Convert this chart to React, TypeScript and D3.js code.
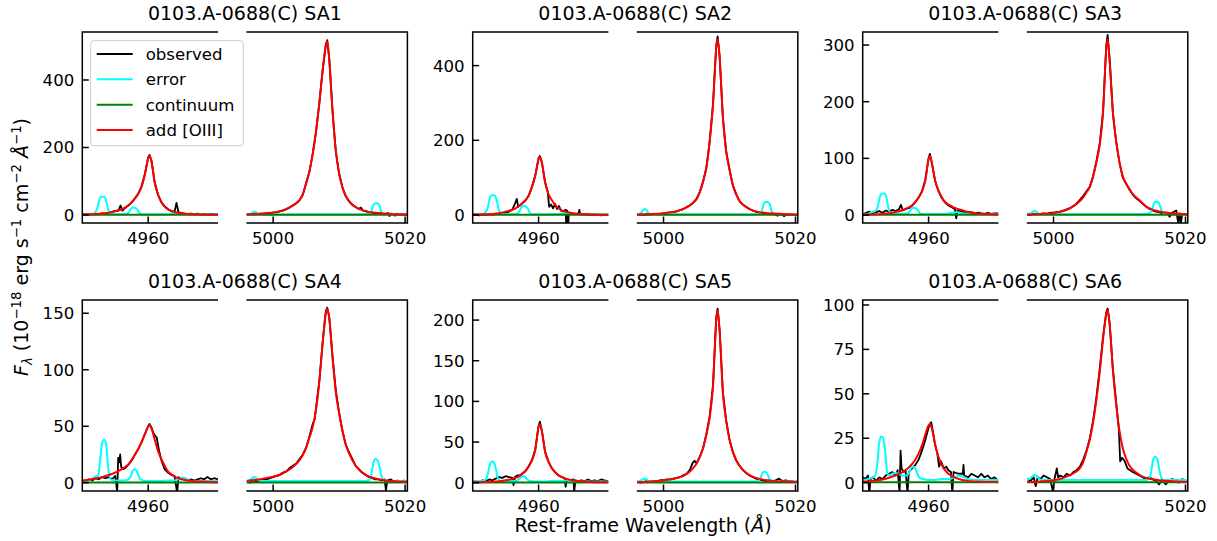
import React from "react";
import * as d3 from "d3";

// ---------------- data ----------------
const TITLES = [
  "0103.A-0688(C) SA1",
  "0103.A-0688(C) SA2",
  "0103.A-0688(C) SA3",
  "0103.A-0688(C) SA4",
  "0103.A-0688(C) SA5",
  "0103.A-0688(C) SA6",
];
const X_LEFT = [4950, 4970.6];
const X_RIGHT = [4995.95, 5020.35];
const X_TICKS_LEFT = [4960];
const X_TICKS_RIGHT = [5000, 5020];
const Y_DOMAINS = [
  [-23.7, 542.2],
  [-21.4, 490],
  [-14.1, 323],
  [-7.3, 161.7],
  [-10.2, 224.7],
  [-4.7, 102.8],
];
const Y_TICKS = [
  [0, 200, 400],
  [0, 200, 400],
  [0, 100, 200, 300],
  [0, 50, 100, 150],
  [0, 50, 100, 150, 200],
  [0, 25, 50, 75, 100],
];
const LEGEND_LABELS = ["observed", "error", "continuum", "add [OIII]"];
const LEGEND_COLORS = ["#000000", "#00ffff", "#008000", "#ff0000"];

const WAVE_4959 = [4948, 4950, 4952, 4953, 4954, 4955, 4956, 4956.5, 4957, 4957.5, 4958, 4958.5, 4959, 4959.5, 4960, 4960.2, 4960.5, 4961, 4961.5, 4962, 4962.5, 4963, 4963.5, 4964, 4965, 4966, 4968, 4970, 4972.4];
const WAVE_5007 = [4996, 4998, 5000, 5001, 5002, 5003, 5004, 5004.5, 5005, 5005.5, 5006, 5006.5, 5007, 5007.5, 5008, 5008.2, 5008.5, 5009, 5009.5, 5010, 5010.5, 5011, 5011.5, 5012, 5013, 5014, 5016, 5018, 5020.4];

const MODEL_4959_SA1 = [0.8, 1.5, 3, 4.5, 7, 11, 17, 22, 29, 38, 50, 64, 84, 120, 168, 176, 160, 95, 60, 38, 25, 17, 12, 9, 5, 3, 1.5, 0.8, 0.4];
const MODEL_5007_SA1 = [2.1, 3.6, 7.2, 11.3, 18, 28.3, 43.8, 61.8, 92.7, 128.8, 180.3, 247.2, 329.6, 427.5, 504.7, 515, 463.5, 309, 190.6, 123.6, 82.4, 56.7, 41.2, 30.9, 18, 11.3, 5.7, 3.1, 1.5];
const MODEL_4959_SA2 = [0.5, 1, 2, 3, 5, 9, 14, 18, 24, 31, 39, 52, 75, 105, 150, 156, 140, 86, 56, 40, 27, 19, 12.5, 9.4, 5.5, 3.1, 1.6, 0.9, 0.5];
const MODEL_5007_SA2 = [1.4, 2.4, 4.7, 7.1, 10.3, 16.5, 25.9, 32.9, 42.3, 61.1, 89.3, 126.9, 197.4, 296.1, 451.2, 470, 423, 258.5, 169.2, 122.2, 79.9, 56.4, 37.6, 28.2, 16.5, 9.4, 4.7, 2.8, 1.4];
const MODEL_4959_SA3 = [0.3, 0.6, 1.2, 1.9, 3.1, 5.2, 8.3, 10.4, 13.5, 16.6, 22.9, 31.2, 41.6, 60.3, 98.8, 104, 91.5, 60.3, 43.7, 31.2, 22.9, 18.7, 15.6, 12.5, 8.8, 5.2, 2.1, 1, 0.5];
const MODEL_5007_SA3 = [0.9, 1.9, 3.7, 5.6, 9.3, 15.5, 24.8, 31, 40.3, 49.6, 68.2, 93, 124, 179.8, 294.5, 310, 272.8, 179.8, 130.2, 93, 68.2, 55.8, 46.5, 37.2, 26.4, 15.5, 6.2, 3.1, 1.6];
const MODEL_4959_SA4 = [1.2, 2, 3.8, 5, 6.8, 9, 12, 14, 16.5, 20, 25, 30, 36, 43, 50, 51, 48, 38, 28, 21, 15, 10, 7.5, 5.5, 3.2, 2, 1, 0.5, 0.3];
const MODEL_5007_SA4 = [1.5, 3.1, 5.4, 6.9, 10, 13.9, 20, 24.6, 30.8, 40, 49.3, 64.7, 89.3, 123, 151, 154, 146, 111, 80, 61.6, 46.2, 33.9, 26.2, 20, 11.6, 6.9, 3.1, 1.5, 0.9];
const MODEL_4959_SA5 = [0.3, 0.5, 0.9, 1.3, 1.9, 2.9, 4.7, 6.1, 7.9, 10.8, 14.4, 20.2, 27.4, 40.3, 68.4, 72, 63.4, 37.4, 25.9, 18, 13, 9.4, 7.2, 5.4, 3.2, 2, 0.9, 0.5, 0.3];
const MODEL_5007_SA5 = [0.8, 1.5, 2.8, 3.8, 5.7, 8.5, 13.8, 18, 23.3, 31.8, 42.4, 59.4, 80.6, 118.7, 201.4, 212, 186.6, 110.2, 76.3, 53, 38.2, 27.6, 21.2, 15.9, 9.5, 5.9, 2.8, 1.5, 0.8];
const MODEL_4959_SA6 = [0.3, 0.5, 1.2, 1.8, 2.8, 4.2, 5.8, 7, 8.6, 10.5, 13, 16.5, 21, 27, 32.3, 33, 30.4, 21.5, 14.5, 10, 7, 5, 3.8, 2.8, 1.6, 1, 0.5, 0.3, 0.1];
const MODEL_5007_SA6 = [0.4, 0.7, 1.4, 2.1, 3.4, 5.3, 8.2, 11.6, 17.5, 24.3, 34, 46.6, 62.1, 80.5, 95.1, 97, 89.2, 63.1, 43.7, 29.1, 19.4, 13.6, 9.7, 7.3, 4.4, 2.7, 1.4, 0.8, 0.4];

const OBS_L_SA1 = [[4950,1],[4950.5,3],[4951,1],[4951.5,2],[4952,3],[4952.5,2],[4953,5],[4953.5,4],[4954,7],[4954.5,9],[4955,12],[4955.5,14],[4955.8,28],[4956.1,13],[4956.5,21],[4957,28],[4957.5,37],[4958,49],[4958.5,63],[4959,85],[4959.5,122],[4960,170],[4960.2,178],[4960.5,160],[4961,96],[4961.5,60],[4962,38],[4962.5,26],[4963,17],[4963.5,12],[4964,9],[4964.3,36],[4964.6,8],[4965,6],[4965.5,4],[4966,3],[4966.5,4],[4967,2],[4967.5,4],[4968,2],[4968.5,3],[4969,1],[4969.5,3],[4970,2],[4970.6,2]];
const OBS_R_SA1 = [[4996,1],[4996.5,2],[4997,3],[4997.5,2],[4998,4],[4998.5,4],[4999,5],[4999.5,5],[5000,7],[5000.5,8],[5001,11],[5001.5,13],[5002,17],[5002.5,22],[5003,28],[5003.5,35],[5004,44],[5004.5,60],[5005,95],[5005.5,128],[5006,182],[5006.5,246],[5007,332],[5007.5,428],[5008,506],[5008.2,518],[5008.5,465],[5009,308],[5009.5,188],[5010,122],[5010.5,82],[5011,56],[5011.5,41],[5012,30],[5012.5,24],[5013,18],[5013.3,22],[5013.6,13],[5014,12],[5014.5,8],[5015,7],[5015.5,5],[5016,6],[5016.5,4],[5017,3],[5017.4,6],[5017.6,-3],[5018,4],[5018.5,-2],[5018.7,4],[5019,1],[5019.5,2],[5020,1],[5020.35,1]];
const OBS_L_SA2 = [[4950,0],[4950.5,1],[4951,-1],[4951.5,1],[4952,0],[4952.5,2],[4953,1],[4953.5,2],[4954,3],[4954.5,4],[4955,6],[4955.5,9],[4956,14],[4956.4,30],[4956.7,43],[4956.9,22],[4957.2,26],[4957.5,31],[4958,39],[4958.5,52],[4959,76],[4959.5,106],[4960,152],[4960.2,158],[4960.5,141],[4961,88],[4961.4,62],[4961.6,22],[4961.9,28],[4962.2,18],[4962.5,30],[4962.8,16],[4963.1,24],[4963.4,12],[4963.8,10],[4964.1,14],[4964.2,-30],[4964.35,12],[4964.5,-30],[4964.6,6],[4965,4],[4965.5,3],[4966,2],[4966.2,14],[4966.3,1],[4967,1],[4967.5,0],[4968,1],[4968.5,0],[4969,1],[4969.5,-1],[4970,1],[4970.6,0]];
const OBS_R_SA2 = [[4996,1],[4996.5,2],[4997,0],[4997.5,2],[4998,1],[4998.5,3],[4999,2],[4999.5,3],[5000,4],[5000.5,5],[5001,7],[5001.5,8],[5002,10],[5002.5,13],[5003,16],[5003.5,21],[5004,26],[5004.5,33],[5005,43],[5005.5,62],[5006,90],[5006.5,128],[5007,198],[5007.5,298],[5008,455],[5008.2,478],[5008.5,425],[5009,260],[5009.5,170],[5010,122],[5010.5,80],[5011,56],[5011.5,38],[5012,28],[5012.5,22],[5013,16],[5013.5,12],[5014,9],[5014.5,6],[5015,4],[5015.5,3],[5016,2],[5016.5,3],[5017,1],[5017.3,-2],[5017.5,2],[5018,0],[5018.3,-3],[5018.6,1],[5019,0],[5019.5,1],[5020,0],[5020.35,1]];
const OBS_L_SA3 = [[4950,1],[4950.5,4],[4951,6],[4951.5,3],[4952,5],[4952.5,7],[4953,4],[4953.5,8],[4954,6],[4954.5,9],[4955,7],[4955.5,10],[4955.8,18],[4956.1,8],[4956.5,11],[4957,12],[4957.5,17],[4958,23],[4958.5,31],[4959,42],[4959.5,62],[4960,100],[4960.2,108],[4960.5,92],[4961,60],[4961.5,42],[4962,30],[4962.5,22],[4963,17],[4963.5,14],[4964,10],[4964.2,-6],[4964.4,8],[4965,6],[4965.5,5],[4966,4],[4966.5,5],[4967,3],[4967.5,4],[4968,3],[4968.5,2],[4969,4],[4969.5,2],[4970,3],[4970.6,3]];
const OBS_R_SA3 = [[4996,1],[4996.5,0],[4997,2],[4997.5,1],[4998,2],[4998.5,3],[4999,2],[4999.5,4],[5000,4],[5000.5,5],[5001,6],[5001.5,8],[5002,10],[5002.5,12],[5003,16],[5003.5,20],[5004,27],[5004.5,34],[5005,42],[5005.5,50],[5006,69],[5006.5,95],[5007,126],[5007.5,182],[5008,300],[5008.2,318],[5008.5,276],[5009,180],[5009.5,128],[5010,92],[5010.5,66],[5011,55],[5011.5,45],[5012,36],[5012.5,30],[5013,25],[5013.5,20],[5014,15],[5014.5,11],[5015,8],[5015.5,6],[5016,5],[5016.5,3],[5017,4],[5017.3,2],[5017.6,-3],[5018,4],[5018.6,8],[5018.9,-15],[5019.1,3],[5019.3,-15],[5019.5,2],[5020,1],[5020.35,1]];
const OBS_L_SA4 = [[4950,2],[4950.5,1],[4951,3],[4951.5,2],[4952,4],[4952.5,3],[4953,5],[4953.5,4],[4954,5],[4954.5,3],[4955,6],[4955.3,-8],[4955.45,22],[4955.6,18],[4955.75,25],[4955.9,14],[4956.2,12],[4956.5,13],[4957,16],[4957.5,20],[4958,25],[4958.5,30],[4959,36],[4959.5,43],[4960,50],[4960.2,52],[4960.5,49],[4960.8,44],[4961,42],[4961.3,40],[4961.6,30],[4962,20],[4962.5,12],[4963,9],[4963.5,7],[4964,6],[4964.4,-9],[4964.6,5],[4965,3],[4965.5,4],[4966,2],[4966.5,3],[4967,2],[4967.5,3],[4968,4],[4968.5,3],[4969,5],[4969.5,3],[4970,4],[4970.6,3]];
const OBS_R_SA4 = [[4996,1],[4996.5,0],[4997,2],[4997.5,1],[4998,2],[4998.5,3],[4999,3],[4999.5,4],[5000,5],[5000.5,6],[5001,7],[5001.5,9],[5002,10],[5002.5,13],[5003,15],[5003.5,17],[5004,21],[5004.5,25],[5005,31],[5005.5,41],[5006,52],[5006.3,56],[5006.5,66],[5007,90],[5007.5,124],[5008,152],[5008.2,155],[5008.5,147],[5009,112],[5009.5,82],[5010,62],[5010.5,46],[5011,34],[5011.5,27],[5012,21],[5012.5,15],[5013,12],[5013.5,9],[5014,7],[5014.5,5],[5015,4],[5015.5,3],[5016,3],[5016.5,2],[5016.9,3],[5017.1,-7],[5017.3,2],[5017.8,3],[5018.3,1],[5018.8,2],[5019.3,1],[5019.8,2],[5020.35,1]];
const OBS_L_SA5 = [[4950,1],[4950.5,2],[4951,1],[4951.5,3],[4952,2],[4952.5,4],[4953,3],[4953.5,5],[4954,7],[4954.5,6],[4955,8],[4955.5,7],[4956,6],[4956.2,-3],[4956.4,7],[4956.8,9],[4957.2,9],[4957.5,11],[4958,14],[4958.5,20],[4959,28],[4959.5,41],[4960,70],[4960.2,75],[4960.5,64],[4961,38],[4961.5,26],[4962,18],[4962.5,13],[4963,9],[4963.5,7],[4964,5],[4964.1,-5],[4964.3,4],[4964.8,3],[4965.3,4],[4965.4,-12],[4965.6,3],[4966,2],[4966.5,3],[4967,2],[4967.5,4],[4968,2],[4968.5,3],[4969,2],[4969.5,4],[4970,3],[4970.6,2]];
const OBS_R_SA5 = [[4996,1],[4996.5,0],[4997,1],[4997.5,2],[4998,1],[4998.5,2],[4999,2],[4999.5,3],[5000,3],[5000.5,4],[5001,4],[5001.5,5],[5002,6],[5002.5,7],[5003,9],[5003.5,11],[5004,16],[5004.4,24],[5004.7,27],[5005,24],[5005.5,32],[5006,43],[5006.5,60],[5007,82],[5007.5,120],[5008,204],[5008.2,214],[5008.5,188],[5009,111],[5009.5,76],[5010,53],[5010.5,38],[5011,28],[5011.5,21],[5012,16],[5012.5,12],[5013,9],[5013.5,7],[5014,5],[5014.5,4],[5015,3],[5015.5,2],[5016,3],[5016.5,2],[5017,3],[5017.5,5],[5018,2],[5018.5,3],[5019,2],[5019.5,2],[5020,1],[5020.35,2]];
const OBS_L_SA6 = [[4950,3],[4950.4,2],[4950.8,4],[4951,-6],[4951.2,2],[4951.6,3],[4952,1],[4952.5,3],[4953,2],[4953.5,4],[4954,5],[4954.5,6],[4955,4],[4955.3,7],[4955.6,-6],[4955.75,18],[4955.9,8],[4956.2,6],[4956.5,7],[4956.8,-6],[4957,6],[4957.5,8],[4958,10],[4958.5,13],[4959,18],[4959.5,24],[4960,31],[4960.2,33],[4960.4,34],[4960.7,28],[4961,21],[4961.3,17],[4961.6,9],[4961.9,12],[4962.3,8],[4962.7,9],[4963,7],[4963.4,6],[4963.6,-6],[4963.8,6],[4964.5,5],[4965.2,5],[4965.3,10],[4965.4,4],[4966,3],[4966.5,5],[4967,4],[4967.5,3],[4968,5],[4968.5,3],[4969,4],[4969.5,2],[4970,3],[4970.6,1]];
const OBS_R_SA6 = [[4996,2],[4996.5,1],[4997,3],[4997.3,-2],[4997.6,3],[4998,2],[4998.5,4],[4999,3],[4999.5,2],[4999.9,-5],[5000.2,3],[5000.5,8],[5000.7,3],[5001,4],[5001.5,3],[5002,5],[5002.5,4],[5003,6],[5003.5,7],[5004,9],[5004.5,13],[5005,18],[5005.5,25],[5006,35],[5006.5,48],[5007,64],[5007.5,82],[5008,96],[5008.2,98],[5008.5,90],[5009,64],[5009.5,45],[5009.9,30],[5010.1,12],[5010.4,14],[5010.8,12],[5011.2,8],[5011.6,7],[5012,6],[5012.5,5],[5013,4],[5013.5,3],[5014,2],[5014.5,3],[5015,2],[5015.5,1],[5016,-1],[5016.5,2],[5017,-1],[5017.5,1],[5018,2],[5018.5,1],[5019,0],[5019.5,2],[5020,1],[5020.35,1]];

const ERR_L_SA1 = [[4950,1.5],[4950.8,2],[4951.5,3],[4951.9,6],[4952.3,22],[4952.6,46],[4952.9,54],[4953.3,54],[4953.6,44],[4953.9,18],[4954.3,4],[4955,2],[4956,2],[4956.7,2.5],[4957.1,9],[4957.4,19],[4957.7,22],[4958.1,21],[4958.4,15],[4958.7,5],[4959.1,2],[4960,1.5],[4961,1.5],[4962,2],[4963,2.5],[4963.5,4],[4964,5],[4964.5,4],[4965,2.5],[4966,2],[4967,1.5],[4968,2],[4969,1.5],[4970,1.5],[4970.6,1.5]];
const ERR_L_SA2 = [[4950,1.5],[4950.8,2],[4951.5,3],[4951.9,6],[4952.3,21],[4952.6,45],[4952.9,53],[4953.3,53],[4953.6,43],[4953.9,18],[4954.3,4],[4955,2],[4956,2],[4956.7,2.5],[4957.1,10],[4957.4,21],[4957.7,24],[4958.1,23],[4958.4,16],[4958.7,5],[4959.1,2],[4960,1.5],[4961,1.5],[4962,2],[4963,2.5],[4963.5,4],[4964,5],[4964.5,5],[4965,3],[4966,2],[4967,1.5],[4968,2],[4969,1.5],[4970,1.5],[4970.6,1.5]];
const ERR_L_SA3 = [[4950,1.5],[4950.8,2],[4951.3,5],[4951.9,7],[4952.3,16],[4952.6,32],[4952.9,38],[4953.3,38],[4953.6,31],[4953.9,13],[4954.3,3],[4955,2],[4956,2],[4956.7,2.5],[4957.1,6],[4957.4,11],[4957.7,13],[4958.1,12],[4958.4,8],[4958.7,3],[4959.1,2],[4960,1.5],[4961,2],[4962,2],[4963,2.5],[4963.5,3.5],[4964,5],[4964.5,5],[4965,3],[4966,2],[4967,1.5],[4968,2],[4969,1.5],[4970,1.5],[4970.6,1.5]];
const ERR_L_SA4 = [[4950,1.5],[4951,2],[4951.6,4],[4952,5.5],[4952.4,6],[4952.7,20],[4953,35],[4953.3,38],[4953.6,35],[4953.9,15],[4954.3,3],[4955,2],[4956,2],[4956.8,2.5],[4957.3,5],[4957.6,10],[4957.9,12],[4958.2,11],[4958.5,7],[4958.8,3],[4959.2,2],[4960,1.5],[4961,1.5],[4962,1.5],[4963,2],[4964,2],[4964.7,3.5],[4965.2,4.5],[4965.7,4],[4966.2,2],[4967,1.5],[4968,1.5],[4969,1.5],[4970,1.5],[4970.6,1.5]];
const ERR_L_SA5 = [[4950,1.5],[4950.8,2],[4951.5,2.5],[4952,4],[4952.3,11],[4952.6,22],[4952.9,26],[4953.2,25],[4953.5,18],[4953.8,6],[4954.2,2.5],[4955,2],[4956,2],[4956.7,2.5],[4957.1,5],[4957.4,7.5],[4957.7,8],[4958,7],[4958.3,4],[4958.7,2],[4959.5,1.5],[4961,1.5],[4962,2],[4963,2],[4964,2.5],[4964.5,3],[4965,2.5],[4966,2],[4967,1.5],[4968,1.5],[4969,1.5],[4970,1.5],[4970.6,1.5]];
const ERR_L_SA6 = [[4950,1.5],[4950.8,2],[4951.5,3],[4951.9,4],[4952.2,10],[4952.5,22],[4952.8,26],[4953.1,25],[4953.4,18],[4953.7,6],[4954,4],[4954.5,5],[4955,5.5],[4955.5,5],[4956,4],[4956.7,4],[4957.1,6],[4957.4,8.5],[4957.7,9],[4958,8],[4958.3,5],[4958.7,2.5],[4959.3,2],[4960,1.5],[4961,1.5],[4962,2],[4963,2],[4964,3],[4964.6,4],[4965.2,3.5],[4966,2],[4967,1.5],[4968,1.5],[4969,1.5],[4970,1.5],[4970.6,1.5]];

const ERR_R_SA1 = [[4995.95,2],[4996.5,3],[4996.8,7],[4997.1,10],[4997.4,9],[4997.7,4],[4998.2,2],[5000,1.5],[5004,1.5],[5008,1.5],[5012,1.5],[5014,2],[5014.6,3],[5014.9,12],[5015.2,30],[5015.5,35],[5015.8,35],[5016.1,29],[5016.4,10],[5016.8,3],[5017.5,2],[5018.5,2],[5019.5,1.5],[5020.35,1.5]];
const ERR_R_SA2 = [[4995.95,2],[4996.5,4],[4996.8,11],[4997.1,16],[4997.4,14],[4997.7,5],[4998.2,2],[5000,1.5],[5004,1.5],[5008,1.5],[5012,1.5],[5014,2],[5014.6,3],[5014.9,12],[5015.2,30],[5015.5,35],[5015.8,35],[5016.1,29],[5016.4,10],[5016.8,3],[5017.5,2],[5018.5,2],[5019.5,1.5],[5020.35,1.5]];
const ERR_R_SA3 = [[4995.95,1.5],[4996.5,2.5],[4996.8,5],[4997.1,7],[4997.4,6],[4997.7,3],[4998.2,1.5],[5000,1.5],[5004,1.5],[5008,1.5],[5012,1.5],[5014,2],[5014.6,3],[5014.9,9],[5015.2,20],[5015.5,23.5],[5015.8,23],[5016.1,18],[5016.4,7],[5016.8,2.5],[5017.5,2],[5018.5,1.5],[5019.5,1.5],[5020.35,1.5]];
const ERR_R_SA4 = [[4995.95,1.5],[4996.5,2.5],[4996.8,4],[4997.1,5],[4997.4,4.5],[4997.7,2.5],[4998.2,1.5],[5000,1.5],[5004,1.5],[5008,1.5],[5012,1.5],[5014,1.5],[5014.6,2.5],[5014.9,8],[5015.2,18],[5015.5,21],[5015.8,20],[5016.1,15],[5016.4,6],[5016.8,2.5],[5017.5,1.5],[5018.5,1.5],[5019.5,1.5],[5020.35,1.5]];
const ERR_R_SA5 = [[4995.95,1.5],[4996.5,2.5],[4996.8,4],[4997.1,5],[4997.4,4.5],[4997.7,2.5],[4998.2,1.5],[5000,1.5],[5004,1.5],[5008,1.5],[5012,1.5],[5014,1.5],[5014.4,2.5],[5014.7,6],[5015,12],[5015.3,13.5],[5015.6,12.5],[5015.9,8],[5016.2,3],[5016.6,1.5],[5017.5,1.5],[5018.5,1.5],[5019.5,1.5],[5020.35,1.5]];
const ERR_R_SA6 = [[4995.95,1.5],[4996.5,2.5],[4996.8,3.5],[4997.1,4.3],[4997.4,4],[4997.7,2.5],[4998.2,1.5],[5000,1.5],[5004,1.5],[5008,1.5],[5012,1.5],[5014,1.5],[5014.5,2.5],[5014.8,6],[5015.1,13],[5015.4,14.6],[5015.7,13.5],[5016,8],[5016.3,3],[5016.7,1.5],[5017.5,1.5],[5018.5,1.5],[5019.5,1.5],[5020.35,1.5]];

const CONTINUUM = [0.5, 0.5, 0.4, 0.3, 0.3, 0.2];

// table assembled from the arrays above
const PANELS = [
  { m59: MODEL_4959_SA1, m07: MODEL_5007_SA1, oL: OBS_L_SA1, oR: OBS_R_SA1, eL: ERR_L_SA1, eR: ERR_R_SA1 },
  { m59: MODEL_4959_SA2, m07: MODEL_5007_SA2, oL: OBS_L_SA2, oR: OBS_R_SA2, eL: ERR_L_SA2, eR: ERR_R_SA2 },
  { m59: MODEL_4959_SA3, m07: MODEL_5007_SA3, oL: OBS_L_SA3, oR: OBS_R_SA3, eL: ERR_L_SA3, eR: ERR_R_SA3 },
  { m59: MODEL_4959_SA4, m07: MODEL_5007_SA4, oL: OBS_L_SA4, oR: OBS_R_SA4, eL: ERR_L_SA4, eR: ERR_R_SA4 },
  { m59: MODEL_4959_SA5, m07: MODEL_5007_SA5, oL: OBS_L_SA5, oR: OBS_R_SA5, eL: ERR_L_SA5, eR: ERR_R_SA5 },
  { m59: MODEL_4959_SA6, m07: MODEL_5007_SA6, oL: OBS_L_SA6, oR: OBS_R_SA6, eL: ERR_L_SA6, eR: ERR_R_SA6 },
];

// ---------------- layout ----------------
const W = 1217;
const H = 541;
const COL_X = [82.3, 472.7, 862.7];
const ROW_Y = [32, 300];
const PANEL_H = 191;
const LEFT_W = 135.7;
const GAP = 28.4;
const RIGHT_W = 161;
const FONT = "'DejaVu Sans', 'Bitstream Vera Sans', sans-serif";
const TICK_FS = 16.6;
const LABEL_FS = 19;
const TICK_LEN = 6.5;
const SPINE_W = 1.5;

type Pt = [number, number];

function Panel({ i }: { i: number }) {
  const p = PANELS[i];
  const col = i % 3;
  const row = Math.floor(i / 3);
  const x0 = COL_X[col];
  const y0 = ROW_Y[row];
  const y1 = y0 + PANEL_H;
  const xl = d3.scaleLinear().domain(X_LEFT).range([x0, x0 + LEFT_W]);
  const xr0 = x0 + LEFT_W + GAP;
  const xr = d3.scaleLinear().domain(X_RIGHT).range([xr0, xr0 + RIGHT_W]);
  const y = d3.scaleLinear().domain(Y_DOMAINS[i]).range([y1, y0]);

  const lin = (xs: any) => d3.line<Pt>().x((d) => xs(d[0])).y((d) => y(d[1]));
  const smooth = (xs: any) =>
    d3.line<Pt>().x((d) => xs(d[0])).y((d) => y(d[1])).curve(d3.curveMonotoneX);

  const model59 = d3.zip(WAVE_4959, p.m59) as Pt[];
  const model07 = d3.zip(WAVE_5007, p.m07) as Pt[];
  const contL: Pt[] = X_LEFT.map((w) => [w, CONTINUUM[i]] as Pt);
  const contR: Pt[] = X_RIGHT.map((w) => [w, CONTINUUM[i]] as Pt);

  const cl = `clipL${i}`;
  const cr = `clipR${i}`;
  const xr1 = xr0 + RIGHT_W;
  const xl1 = x0 + LEFT_W;

  return (
    <g>
      <defs>
        <clipPath id={cl}>
          <rect x={x0} y={y0} width={LEFT_W} height={PANEL_H} />
        </clipPath>
        <clipPath id={cr}>
          <rect x={xr0} y={y0} width={RIGHT_W} height={PANEL_H} />
        </clipPath>
      </defs>
      <g clipPath={`url(#${cl})`} fill="none" strokeLinejoin="round">
        <path d={lin(xl)(p.oL as Pt[]) || ""} stroke="#000" strokeWidth={1.8} />
        <path d={smooth(xl)(p.eL as Pt[]) || ""} stroke="#00ffff" strokeWidth={2} />
        <path d={lin(xl)(contL) || ""} stroke="#008000" strokeWidth={2} />
        <path d={smooth(xl)(model59) || ""} stroke="#ff0000" strokeWidth={2} />
      </g>
      <g clipPath={`url(#${cr})`} fill="none" strokeLinejoin="round">
        <path d={lin(xr)(p.oR as Pt[]) || ""} stroke="#000" strokeWidth={1.8} />
        <path d={smooth(xr)(p.eR as Pt[]) || ""} stroke="#00ffff" strokeWidth={2} />
        <path d={lin(xr)(contR) || ""} stroke="#008000" strokeWidth={2} />
        <path d={smooth(xr)(model07) || ""} stroke="#ff0000" strokeWidth={2} />
      </g>
      {/* spines */}
      <path
        d={`M${xl1},${y0}H${x0}V${y1}H${xl1}`}
        fill="none"
        stroke="#000"
        strokeWidth={SPINE_W}
      />
      <path
        d={`M${xr0},${y0}H${xr1}V${y1}H${xr0}`}
        fill="none"
        stroke="#000"
        strokeWidth={SPINE_W}
      />
      {/* y ticks */}
      {Y_TICKS[i].map((t) => (
        <g key={`y${t}`}>
          <line x1={x0} x2={x0 + TICK_LEN} y1={y(t)} y2={y(t)} stroke="#000" strokeWidth={SPINE_W} />
          <text x={x0 - 8} y={y(t)} dy="0.36em" textAnchor="end" fontSize={TICK_FS} fill="#000">
            {t}
          </text>
        </g>
      ))}
      {/* x ticks */}
      {X_TICKS_LEFT.map((t) => (
        <g key={`xl${t}`}>
          <line x1={xl(t)} x2={xl(t)} y1={y1} y2={y1 - TICK_LEN} stroke="#000" strokeWidth={SPINE_W} />
          <text x={xl(t)} y={y1 + 20.5} textAnchor="middle" fontSize={TICK_FS} fill="#000">
            {t}
          </text>
        </g>
      ))}
      {X_TICKS_RIGHT.map((t) => (
        <g key={`xr${t}`}>
          <line x1={xr(t)} x2={xr(t)} y1={y1} y2={y1 - TICK_LEN} stroke="#000" strokeWidth={SPINE_W} />
          <text x={xr(t)} y={y1 + 20.5} textAnchor="middle" fontSize={TICK_FS} fill="#000">
            {t}
          </text>
        </g>
      ))}
      <text
        x={(x0 + xr1) / 2}
        y={y0 - 12}
        textAnchor="middle"
        fontSize={LABEL_FS}
        fill="#000"
      >
        {TITLES[i]}
      </text>
    </g>
  );
}

function Legend() {
  const lx = 90.7;
  const ly = 40.7;
  const rowY = d3.scaleLinear().domain([0, 3]).range([54, 130]);
  return (
    <g>
      <rect x={lx} y={ly} width={152.6} height={105} rx={3} fill="#fff" fillOpacity={0.8} stroke="#cccccc" strokeWidth={1} />
      {LEGEND_LABELS.map((lab, k) => (
        <g key={lab}>
          <line x1={96.7} x2={132.7} y1={rowY(k)} y2={rowY(k)} stroke={LEGEND_COLORS[k]} strokeWidth={2} />
          <text x={145.7} y={rowY(k)} dy="0.36em" fontSize={TICK_FS} fill="#000">
            {lab}
          </text>
        </g>
      ))}
    </g>
  );
}

export default function App() {
  const sup = 13.3;
  const up = -7.5;
  return (
    <svg
      width={W}
      height={H}
      viewBox={`0 0 ${W} ${H}`}
      style={{ position: "absolute", left: 0, top: 0, display: "block", background: "#fff" }}
      fontFamily={FONT}
    >
      <rect x={0} y={0} width={W} height={H} fill="#fff" />
      {PANELS.map((_, i) => (
        <Panel key={i} i={i} />
      ))}
      <Legend />
      <text x={643} y={532} textAnchor="middle" fontSize={LABEL_FS} fill="#000" style={{ whiteSpace: "pre" }}>
        <tspan>{"Rest-frame Wavelength ("}</tspan>
        <tspan fontStyle="italic">{"Å"}</tspan>
        <tspan>{")"}</tspan>
      </text>
      <text
        transform="translate(28,247) rotate(-90)"
        textAnchor="middle"
        fontSize={LABEL_FS}
        fill="#000"
        style={{ whiteSpace: "pre" }}
      >
        <tspan fontStyle="italic">{"F"}</tspan>
        <tspan fontSize={sup} fontStyle="italic" dy={4}>{"λ"}</tspan>
        <tspan dy={-4}>{" (10"}</tspan>
        <tspan fontSize={sup} dy={up}>{"−18"}</tspan>
        <tspan dy={-up}>{" erg s"}</tspan>
        <tspan fontSize={sup} dy={up}>{"−1"}</tspan>
        <tspan dy={-up}>{" cm"}</tspan>
        <tspan fontSize={sup} dy={up}>{"−2"}</tspan>
        <tspan dy={-up}>{" "}</tspan>
        <tspan fontStyle="italic">{"Å"}</tspan>
        <tspan fontSize={sup} dy={up}>{"−1"}</tspan>
        <tspan dy={-up}>{")"}</tspan>
      </text>
    </svg>
  );
}
